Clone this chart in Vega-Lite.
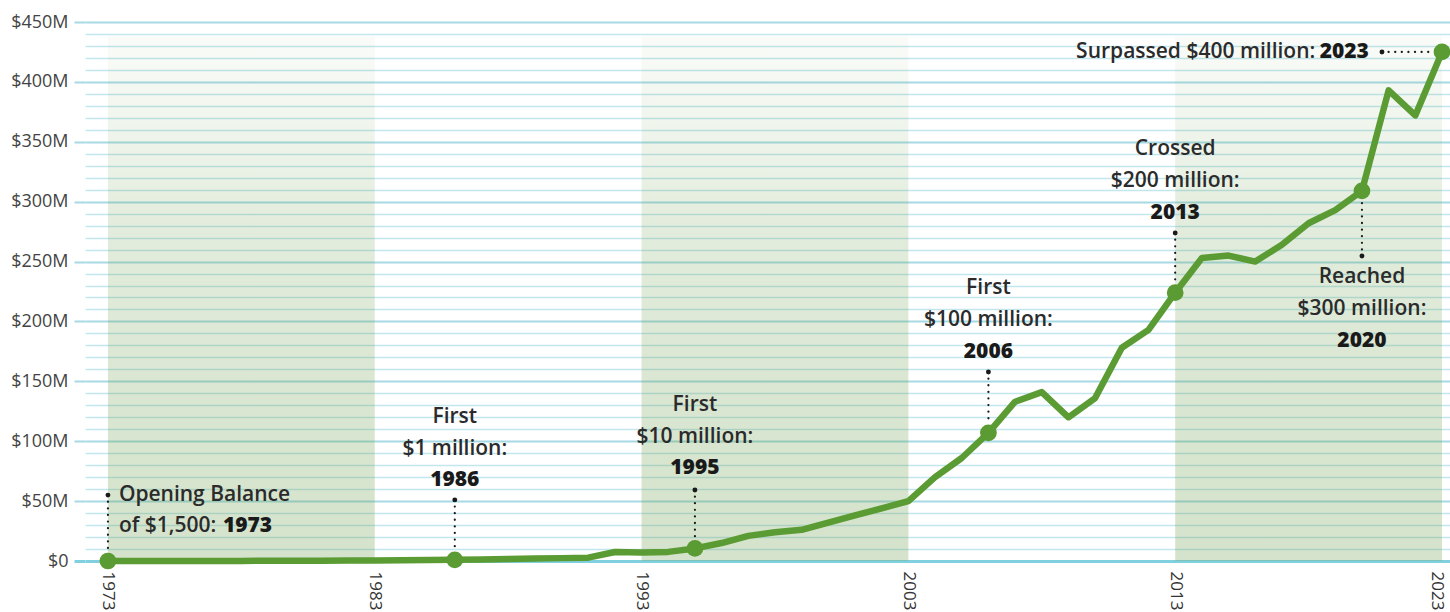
{
  "$schema": "https://vega.github.io/schema/vega-lite/v6.json",
  "width": 1365,
  "height": 539,
  "autosize": {"type": "none"},
  "padding": {"left": 85, "top": 22, "right": 0, "bottom": 51},
  "background": "white",
  "config": {"view": {"stroke": null}, "font": "Open Sans"},
  "resolve": {"axis": {"x": "independent", "y": "independent"}},
  "datasets": {
    "bands": [
      {"start": 1973, "end": 1983, "top": 438, "bottom": 0},
      {"start": 1993, "end": 2003, "top": 438, "bottom": 0},
      {"start": 2013, "end": 2023, "top": 438, "bottom": 0}
    ],
    "balance": [
      {"year": 1973, "value": 0.0015, "milestone": true},
      {"year": 1974, "value": 0.01, "milestone": false},
      {"year": 1975, "value": 0.02, "milestone": false},
      {"year": 1976, "value": 0.04, "milestone": false},
      {"year": 1977, "value": 0.06, "milestone": false},
      {"year": 1978, "value": 0.1, "milestone": false},
      {"year": 1979, "value": 0.15, "milestone": false},
      {"year": 1980, "value": 0.2, "milestone": false},
      {"year": 1981, "value": 0.3, "milestone": false},
      {"year": 1982, "value": 0.4, "milestone": false},
      {"year": 1983, "value": 0.5, "milestone": false},
      {"year": 1984, "value": 0.6, "milestone": false},
      {"year": 1985, "value": 0.8, "milestone": false},
      {"year": 1986, "value": 1.0, "milestone": true},
      {"year": 1987, "value": 1.3, "milestone": false},
      {"year": 1988, "value": 1.6, "milestone": false},
      {"year": 1989, "value": 2.0, "milestone": false},
      {"year": 1990, "value": 2.4, "milestone": false},
      {"year": 1991, "value": 2.8, "milestone": false},
      {"year": 1992, "value": 7.5, "milestone": false},
      {"year": 1993, "value": 7.0, "milestone": false},
      {"year": 1994, "value": 7.6, "milestone": false},
      {"year": 1995, "value": 10.5, "milestone": true},
      {"year": 1996, "value": 15, "milestone": false},
      {"year": 1997, "value": 21, "milestone": false},
      {"year": 1998, "value": 24, "milestone": false},
      {"year": 1999, "value": 26, "milestone": false},
      {"year": 2000, "value": 32, "milestone": false},
      {"year": 2001, "value": 38, "milestone": false},
      {"year": 2002, "value": 44, "milestone": false},
      {"year": 2003, "value": 50, "milestone": false},
      {"year": 2004, "value": 70, "milestone": false},
      {"year": 2005, "value": 86, "milestone": false},
      {"year": 2006, "value": 107, "milestone": true},
      {"year": 2007, "value": 133, "milestone": false},
      {"year": 2008, "value": 141, "milestone": false},
      {"year": 2009, "value": 120, "milestone": false},
      {"year": 2010, "value": 136, "milestone": false},
      {"year": 2011, "value": 178, "milestone": false},
      {"year": 2012, "value": 193, "milestone": false},
      {"year": 2013, "value": 224, "milestone": true},
      {"year": 2014, "value": 253, "milestone": false},
      {"year": 2015, "value": 255, "milestone": false},
      {"year": 2016, "value": 250, "milestone": false},
      {"year": 2017, "value": 264, "milestone": false},
      {"year": 2018, "value": 282, "milestone": false},
      {"year": 2019, "value": 293, "milestone": false},
      {"year": 2020, "value": 309, "milestone": true},
      {"year": 2021, "value": 393, "milestone": false},
      {"year": 2022, "value": 372, "milestone": false},
      {"year": 2023, "value": 425, "milestone": true}
    ],
    "leadersV": [
      {"year": 1973, "dot": 55, "end": 8},
      {"year": 1986, "dot": 51, "end": 9},
      {"year": 1995, "dot": 59.3, "end": 18.5},
      {"year": 2006, "dot": 157.8, "end": 115},
      {"year": 2013, "dot": 273.8, "end": 232},
      {"year": 2020, "dot": 254.6, "end": 301}
    ],
    "leadersH": [
      {"year": 2020.75, "end": 2022.65, "value": 425}
    ],
    "notesCenter": [
      {"year": 1986, "value": 120.2, "text": "First"},
      {"year": 1986, "value": 93.5, "text": "$1 million:"},
      {"year": 1995, "value": 130.2, "text": "First"},
      {"year": 1995, "value": 103.5, "text": "$10 million:"},
      {"year": 2006, "value": 227.9, "text": "First"},
      {"year": 2006, "value": 201.2, "text": "$100 million:"},
      {"year": 2013, "value": 344, "text": "Crossed"},
      {"year": 2013, "value": 317.2, "text": "$200 million:"},
      {"year": 2020, "value": 237.1, "text": "Reached"},
      {"year": 2020, "value": 210.4, "text": "$300 million:"}
    ],
    "notesCenterBold": [
      {"year": 1986, "value": 67.6, "text": "1986"},
      {"year": 1995, "value": 77.6, "text": "1995"},
      {"year": 2006, "value": 174.5, "text": "2006"},
      {"year": 2013, "value": 290.5, "text": "2013"},
      {"year": 2020, "value": 183.7, "text": "2020"}
    ],
    "notesLeft": [
      {"year": 1973.41, "value": 55.1, "text": "Opening Balance"},
      {"year": 1973.41, "value": 29.2, "text": "of $1,500:"}
    ],
    "notesLeftBold": [
      {"year": 1977.31, "value": 29.2, "text": "1973"}
    ],
    "notesRight": [
      {"year": 2018.25, "value": 425, "text": "Surpassed $400 million:"}
    ],
    "notesRightBold": [
      {"year": 2020.26, "value": 425, "text": "2023"}
    ]
  },
  "layer": [
    {
      "data": {"name": "bands"},
      "mark": {
        "type": "rect",
        "color": {
          "gradient": "linear",
          "x1": 0, "y1": 0, "x2": 0, "y2": 1,
          "stops": [
            {"offset": 0, "color": "rgba(115,162,85,0.04)"},
            {"offset": 0.2, "color": "rgba(115,162,85,0.12)"},
            {"offset": 0.35, "color": "rgba(115,162,85,0.2)"},
            {"offset": 0.7, "color": "rgba(115,162,85,0.27)"},
            {"offset": 1, "color": "rgba(115,162,85,0.3)"}
          ]
        }
      },
      "encoding": {
        "x": {
          "field": "start", "type": "quantitative",
          "scale": {"domain": [1972.14, 2023.3], "nice": false, "zero": false},
          "axis": {
            "values": [1973, 1983, 1993, 2003, 2013, 2023],
            "format": "d",
            "labelAngle": 90,
            "labelFont": "Open Sans",
            "labelFontSize": 17,
            "labelColor": "#333333",
            "labelPadding": 10,
            "labelOffset": {"condition": {"test": "datum.value === 2023", "value": -5}, "value": 0},
            "labelOverlap": false,
            "labelBound": false,
            "ticks": false,
            "domain": false,
            "grid": false,
            "title": null
          }
        },
        "x2": {"field": "end"},
        "y": {
          "field": "top", "type": "quantitative",
          "scale": {"domain": [0, 450], "nice": false, "zero": true},
          "axis": {
            "orient": "left",
            "values": [0, 10, 20, 30, 40, 50, 60, 70, 80, 90, 100, 110, 120, 130, 140, 150, 160, 170, 180, 190, 200, 210, 220, 230, 240, 250, 260, 270, 280, 290, 300, 310, 320, 330, 340, 350, 360, 370, 380, 390, 400, 410, 420, 430, 440, 450],
            "title": null,
            "domain": false,
            "grid": true,
            "gridColor": {"condition": [{"test": "datum.value === 0", "value": "#80d0df"}, {"test": "datum.value % 50 === 0", "value": "#a6d9e4"}], "value": "#c2e5ee"},
            "gridWidth": {"condition": [{"test": "datum.value === 0", "value": 3}, {"test": "datum.value % 50 === 0", "value": 2}], "value": 1.4},
            "tickSize": 11,
            "tickColor": {"condition": [{"test": "datum.value === 0", "value": "#80d0df"}, {"test": "datum.value % 50 === 0", "value": "#a6d9e4"}], "value": "rgba(0,0,0,0)"},
            "tickWidth": {"condition": [{"test": "datum.value === 0", "value": 3}, {"test": "datum.value % 50 === 0", "value": 2}], "value": 1},
            "labelExpr": "datum.value % 50 === 0 ? (datum.value === 0 ? '$0' : '$' + datum.value + 'M') : ''",
            "labelFont": "Open Sans",
            "labelFontSize": 18,
            "labelColor": "#444444",
            "labelPadding": 6
          }
        },
        "y2": {"field": "bottom"}
      }
    },
    {
      "data": {"name": "leadersV"},
      "mark": {"type": "rule", "color": "#1a1a1a", "strokeWidth": 2.2, "strokeDash": [0.1, 6.5], "strokeCap": "round"},
      "encoding": {
        "x": {"field": "year", "type": "quantitative", "axis": null},
        "y": {"field": "dot", "type": "quantitative", "axis": null},
        "y2": {"field": "end"}
      }
    },
    {
      "data": {"name": "leadersH"},
      "mark": {"type": "rule", "color": "#1a1a1a", "strokeWidth": 2.2, "strokeDash": [0.1, 6.5], "strokeCap": "round"},
      "encoding": {
        "x": {"field": "year", "type": "quantitative", "axis": null},
        "x2": {"field": "end"},
        "y": {"field": "value", "type": "quantitative", "axis": null}
      }
    },
    {
      "data": {"name": "leadersV"},
      "mark": {"type": "circle", "color": "#1a1a1a", "opacity": 1, "size": 24},
      "encoding": {
        "x": {"field": "year", "type": "quantitative", "axis": null},
        "y": {"field": "dot", "type": "quantitative", "axis": null}
      }
    },
    {
      "data": {"name": "leadersH"},
      "mark": {"type": "circle", "color": "#1a1a1a", "opacity": 1, "size": 24},
      "encoding": {
        "x": {"field": "year", "type": "quantitative", "axis": null},
        "y": {"field": "value", "type": "quantitative", "axis": null}
      }
    },
    {
      "data": {"name": "balance"},
      "mark": {"type": "line", "color": "#5b9b33", "strokeWidth": 6.5, "strokeCap": "round", "strokeJoin": "round"},
      "encoding": {
        "x": {"field": "year", "type": "quantitative", "axis": null},
        "y": {"field": "value", "type": "quantitative", "axis": null}
      }
    },
    {
      "data": {"name": "balance"},
      "transform": [{"filter": "datum.milestone"}],
      "mark": {"type": "circle", "color": "#5b9b33", "opacity": 1, "size": 280},
      "encoding": {
        "x": {"field": "year", "type": "quantitative", "axis": null},
        "y": {"field": "value", "type": "quantitative", "axis": null}
      }
    },
    {
      "data": {"name": "notesCenter"},
      "mark": {"type": "text", "align": "center", "baseline": "middle", "font": "Open Sans", "fontSize": 21, "fontWeight": 600, "color": "#2b2b2b"},
      "encoding": {
        "x": {"field": "year", "type": "quantitative", "axis": null},
        "y": {"field": "value", "type": "quantitative", "axis": null},
        "text": {"field": "text"}
      }
    },
    {
      "data": {"name": "notesCenterBold"},
      "mark": {"type": "text", "align": "center", "baseline": "middle", "font": "Open Sans", "fontSize": 21, "fontWeight": 800, "color": "#1a1a1a"},
      "encoding": {
        "x": {"field": "year", "type": "quantitative", "axis": null},
        "y": {"field": "value", "type": "quantitative", "axis": null},
        "text": {"field": "text"}
      }
    },
    {
      "data": {"name": "notesLeft"},
      "mark": {"type": "text", "align": "left", "baseline": "middle", "font": "Open Sans", "fontSize": 21, "fontWeight": 600, "color": "#2b2b2b"},
      "encoding": {
        "x": {"field": "year", "type": "quantitative", "axis": null},
        "y": {"field": "value", "type": "quantitative", "axis": null},
        "text": {"field": "text"}
      }
    },
    {
      "data": {"name": "notesLeftBold"},
      "mark": {"type": "text", "align": "left", "baseline": "middle", "font": "Open Sans", "fontSize": 21, "fontWeight": 800, "color": "#1a1a1a"},
      "encoding": {
        "x": {"field": "year", "type": "quantitative", "axis": null},
        "y": {"field": "value", "type": "quantitative", "axis": null},
        "text": {"field": "text"}
      }
    },
    {
      "data": {"name": "notesRight"},
      "mark": {"type": "text", "align": "right", "baseline": "middle", "font": "Open Sans", "fontSize": 21, "fontWeight": 600, "color": "#2b2b2b"},
      "encoding": {
        "x": {"field": "year", "type": "quantitative", "axis": null},
        "y": {"field": "value", "type": "quantitative", "axis": null},
        "text": {"field": "text"}
      }
    },
    {
      "data": {"name": "notesRightBold"},
      "mark": {"type": "text", "align": "right", "baseline": "middle", "font": "Open Sans", "fontSize": 21, "fontWeight": 800, "color": "#1a1a1a"},
      "encoding": {
        "x": {"field": "year", "type": "quantitative", "axis": null},
        "y": {"field": "value", "type": "quantitative", "axis": null},
        "text": {"field": "text"}
      }
    }
  ]
}
